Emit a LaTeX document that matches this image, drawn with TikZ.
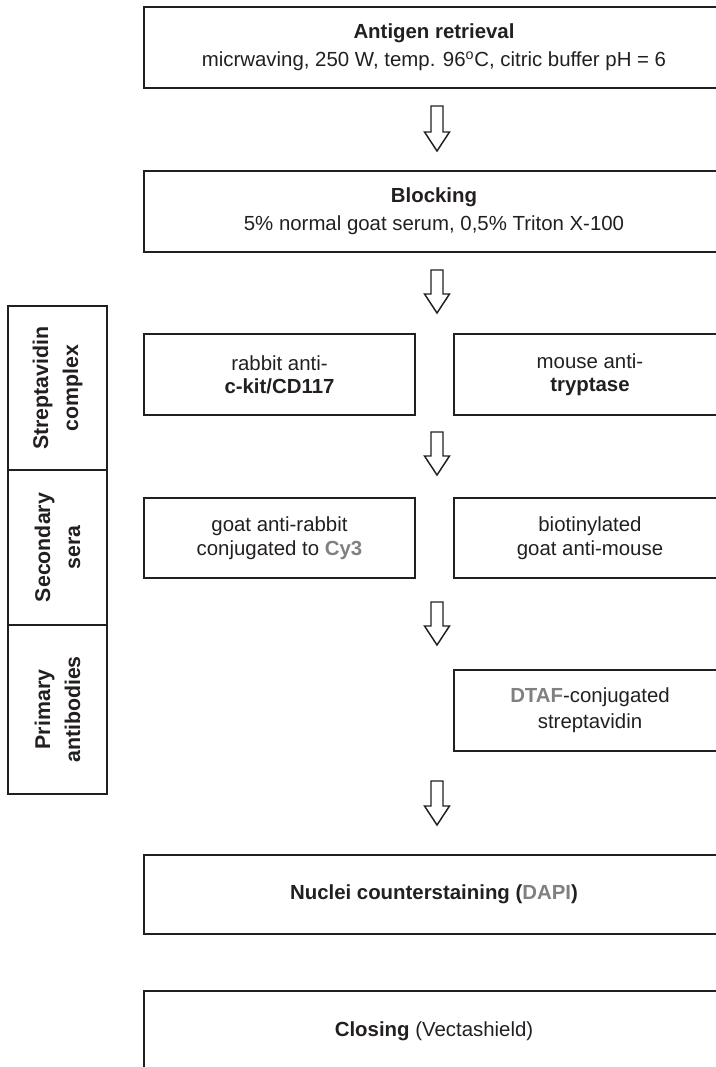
\documentclass[tikz,border=0pt]{standalone}
\usepackage{fontspec}
\setmainfont{Liberation Sans}
\usetikzlibrary{calc}
\definecolor{ink}{HTML}{231F20}
\definecolor{hl}{HTML}{808080}
\newcommand{\blockarrow}[2]{%
  \draw[barrow] ($(#1)+(-6,0)$) -- ($(#2)+(-6,-19)$) -- ($(#2)+(-12.5,-19)$) -- (#2)
    -- ($(#2)+(12.5,-19)$) -- ($(#2)+(6,-19)$) -- ($(#1)+(6,0)$) -- cycle;}
\tikzset{
  box/.style={draw=ink, line width=1.6pt, inner sep=0pt, align=center, text=ink},
  wide/.style={box, minimum width=435pt, minimum height=60.75pt},
  half/.style={box, minimum width=203.25pt, minimum height=60.75pt},
  side/.style={box, minimum width=74.25pt},
  sidetext/.style={rotate=90, align=center, text=ink, inner sep=0pt, font=\bfseries\fontsize{16}{22.5}\selectfont},
  barrow/.style={draw=ink, line width=1.1pt, fill=white, line join=miter},
}
\begin{document}
\begin{tikzpicture}[x=0.75pt, y=-0.75pt]
\useasboundingbox (0,0) rectangle (716,1067);

% main boxes
\node[wide, font=\fontsize{15.3}{21}\selectfont] (antigen) at (434,47.5)
  {\textbf{Antigen retrieval}\\micrwaving, 250 W, temp. 96\textsuperscript{o}C, citric buffer pH = 6};
\node[wide, font=\fontsize{15.3}{21}\selectfont] (blocking) at (434,211.5)
  {\textbf{Blocking}\\5\% normal goat serum, 0,5\% Triton X-100};

\node[half, font=\fontsize{15.3}{17.25}\selectfont] (rabbit) at (279.5,374.5)
  {rabbit anti-\\\textbf{c-kit/CD117}};
\node[half, minimum width=204pt, font=\fontsize{15.3}{17.25}\selectfont] (mouse) at (590,374.5)
  {mouse anti-\\\textbf{tryptase}};

\node[half, minimum height=60pt, font=\fontsize{15.3}{18}\selectfont] (goat) at (279.5,538)
  {goat anti-rabbit\\conjugated to {\color{hl}\textbf{Cy3}}};
\node[half, minimum width=204pt, minimum height=60pt, font=\fontsize{15.3}{18}\selectfont] (biotin) at (590,538)
  {biotinylated\\goat anti-mouse};

\node[half, minimum width=204pt, font=\fontsize{15.3}{19.5}\selectfont] (dtaf) at (590,710.5)
  {{\color{hl}\textbf{DTAF}}-conjugated\\streptavidin};

\node[wide, minimum height=59.25pt, font=\fontsize{15.3}{21}\selectfont] (nuclei) at (434,894.5)
  {\textbf{Nuclei counterstaining (}{\color{hl}\textbf{DAPI}}\textbf{)}};
\node[wide, font=\fontsize{15.3}{21}\selectfont] (closing) at (434,1031.5)
  {\textbf{Closing} (Vectashield)};

% side column
\node[side, minimum height=123pt] (strep) at (57.5,388) {};
\node[sidetext] (streptxt) at (strep.center) {Streptavidin\\complex};
\node[side, minimum height=116.25pt] (second) at (57.5,547.5) {};
\node[sidetext] (secondtxt) at (second.center) {Secondary\\sera};
\node[side, minimum height=126.75pt] (primary) at (57.5,709.5) {};
\node[sidetext] (primarytxt) at (primary.center) {Primary\\antibodies};

% arrows
\coordinate (a1s) at (437,106); \coordinate (a1e) at (437,151);
\coordinate (a2s) at (437,270); \coordinate (a2e) at (437,313);
\coordinate (a3s) at (437,432); \coordinate (a3e) at (437,475);
\coordinate (a4s) at (437,602); \coordinate (a4e) at (437,645);
\coordinate (a5s) at (437,781); \coordinate (a5e) at (437,825);
\blockarrow{a1s}{a1e}
\blockarrow{a2s}{a2e}
\blockarrow{a3s}{a3e}
\blockarrow{a4s}{a4e}
\blockarrow{a5s}{a5e}
\end{tikzpicture}
\end{document}
